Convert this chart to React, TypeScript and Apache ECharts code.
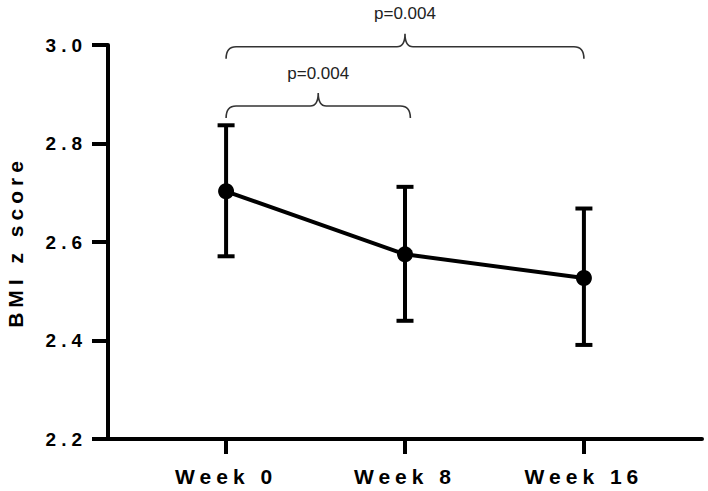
import React, { useEffect, useRef } from 'react';
import * as echarts from 'echarts';

const categories = ['Week 0', 'Week 8', 'Week 16'];
const means = [2.703, 2.575, 2.527];
const upper = [2.837, 2.712, 2.668];
const lower = [2.571, 2.44, 2.391];
const categoryPositions = [0, 1, 2];
const bracketFrom = [0, 0];
const bracketTo = [1.03, 2];
const bracketLevel = [2.876, 2.9965];
const bracketLabels = ['p=0.004', 'p=0.004'];

const FONT = '"Liberation Sans", Arial, Helvetica, sans-serif';

export default function App() {
  const ref = useRef<HTMLDivElement>(null);

  useEffect(() => {
    const chart = echarts.init(ref.current as HTMLDivElement, null, { renderer: 'svg' });
    const option: any = {
      animation: false,
      grid: { left: 108, right: 6, top: 45, bottom: 52, containLabel: false, outerBoundsMode: 'none' },
      xAxis: {
        type: 'value',
        min: -0.66,
        max: 2.66,
        splitLine: { show: false },
        axisLine: { show: true, onZero: false, lineStyle: { color: '#000', width: 4 } },
        axisTick: { show: true, customValues: categoryPositions, length: 15, lineStyle: { color: '#000', width: 4 } },
        axisLabel: {
          customValues: categoryPositions,
          formatter: (v: number) => categories[Math.round(v)],
          fontFamily: FONT,
          fontSize: 21,
          fontWeight: 'bold',
          color: '#000',
          margin: 27,
        },
      },
      yAxis: {
        type: 'value',
        min: 2.2,
        max: 3.0,
        interval: 0.2,
        splitLine: { show: false },
        axisLine: { show: true, onZero: false, lineStyle: { color: '#000', width: 4 } },
        axisTick: { show: true, length: 16, lineStyle: { color: '#000', width: 4 } },
        axisLabel: {
          formatter: (v: number) => v.toFixed(1),
          fontFamily: FONT,
          fontSize: 19,
          fontWeight: 'bold',
          color: '#000',
          margin: 21,
        },
        name: 'BMI z score',
        nameLocation: 'middle',
        nameGap: 82,
        nameTextStyle: { fontFamily: FONT, fontSize: 21, fontWeight: 'bold', color: '#000' },
      },
      series: [
        {
          type: 'custom',
          clip: false,
          z: 2,
          data: categoryPositions.map((x, i) => [x, lower[i], upper[i]]),
          renderItem: (params: any, api: any) => {
            const x = api.value(0);
            const lo = api.coord([x, api.value(1)]);
            const hi = api.coord([x, api.value(2)]);
            const hw = 8.5;
            const style = { stroke: '#000', lineWidth: 4 };
            return {
              type: 'group',
              children: [
                { type: 'line', shape: { x1: lo[0], y1: lo[1], x2: hi[0], y2: hi[1] }, style },
                { type: 'line', shape: { x1: lo[0] - hw, y1: lo[1], x2: lo[0] + hw, y2: lo[1] }, style },
                { type: 'line', shape: { x1: hi[0] - hw, y1: hi[1], x2: hi[0] + hw, y2: hi[1] }, style },
              ],
            };
          },
        },
        {
          type: 'line',
          z: 3,
          data: categoryPositions.map((x, i) => [x, means[i]]),
          symbol: 'circle',
          symbolSize: 16,
          lineStyle: { color: '#000', width: 4 },
          itemStyle: { color: '#000' },
        },
        {
          type: 'custom',
          clip: false,
          z: 4,
          data: bracketFrom.map((f, i) => [f, bracketTo[i], bracketLevel[i]]),
          renderItem: (params: any, api: any) => {
            const a = api.coord([api.value(0), api.value(2)]);
            const b = api.coord([api.value(1), api.value(2)]);
            const y = a[1];
            const x0 = a[0];
            const x1 = b[0];
            const xm = (x0 + x1) / 2;
            const drop = 12;
            const r = 10;
            const rise = 13;
            const pw = 8;
            const d =
              `M${x0},${y + drop} Q${x0},${y} ${x0 + r},${y} L${xm - pw},${y} ` +
              `Q${xm},${y} ${xm},${y - rise} Q${xm},${y} ${xm + pw},${y} ` +
              `L${x1 - r},${y} Q${x1},${y} ${x1},${y + drop}`;
            return {
              type: 'group',
              children: [
                {
                  type: 'path',
                  shape: { pathData: d },
                  style: { fill: 'none', stroke: '#333', lineWidth: 1.6 },
                },
                {
                  type: 'text',
                  x: xm,
                  y: y - rise - 20,
                  style: {
                    text: bracketLabels[params.dataIndex],
                    fontFamily: FONT,
                    fontSize: 17,
                    fill: '#222',
                    align: 'center',
                    verticalAlign: 'middle',
                  },
                },
              ],
            };
          },
        },
      ],
    };
    chart.setOption(option);
    return () => chart.dispose();
  }, []);

  return (
    <>
      <style>{`#bmi-chart text[style*="bold"], #bmi-chart text[style*="700"] { letter-spacing: 5px; }`}</style>
      <div
        id="bmi-chart"
        ref={ref}
        style={{ position: 'fixed', left: 0, top: 0, width: 708, height: 491, background: '#fff' }}
      />
    </>
  );
}
